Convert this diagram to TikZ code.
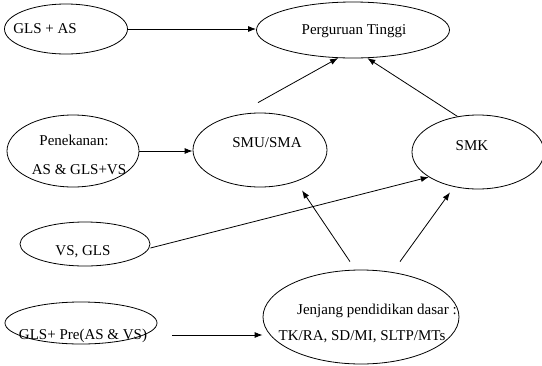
\documentclass[tikz,border=0pt]{standalone}
\usepackage{fontspec}
\setmainfont{Liberation Serif}
\usetikzlibrary{arrows.meta,positioning,shapes.geometric}

\begin{document}
\begin{tikzpicture}[
  x=1pt, y=-1pt,
  oval/.style={draw, ellipse, inner sep=0pt, line width=0.8pt},
  lbl/.style={inner sep=0pt, font=\fontsize{15}{18}\selectfont},
  arr/.style={-{Latex[length=8pt,width=6pt]}, line width=0.8pt}
]
  \useasboundingbox (0,0) rectangle (542,365);

  % ellipses
  \node[oval, minimum width=123pt, minimum height=50pt] (glsas) at (66,29) {};
  \node[oval, minimum width=193pt, minimum height=56pt] (pt) at (353,30) {};
  \node[oval, minimum width=132pt, minimum height=72pt] (pen) at (73,151) {};
  \node[oval, minimum width=134pt, minimum height=74pt] (smu) at (260,150) {};
  \node[oval, minimum width=132pt, minimum height=74pt] (smk) at (478,152) {};
  \node[oval, minimum width=130pt, minimum height=44pt] (vsgls) at (85,244) {};
  \node[oval, minimum width=196pt, minimum height=94pt] (jen) at (361,317) {};
  \node[oval, minimum width=152pt, minimum height=42pt] (pre) at (81,323) {};

  % texts
  \node[lbl] (glsasText) at (45,29) {GLS + AS};
  \node[lbl] (ptText) at (354,31) {Perguruan Tinggi};
  \node[lbl] (penTextA) at (74,140) {Penekanan:};
  \node[lbl] (penTextB) at (79,170) {AS \& GLS+VS};
  \node[lbl] (smuText) at (267,143) {SMU/SMA};
  \node[lbl] (smkText) at (472,146) {SMK};
  \node[lbl] (vsglsText) at (83,252) {VS, GLS};
  \node[lbl] (jenTextA) at (377,311) {Jenjang pendidikan dasar :};
  \node[lbl] (jenTextB) at (362,337) {TK/RA, SD/MI, SLTP/MTs};
  \node[lbl] (preText) at (83,336) {GLS+ Pre(AS \& VS)};

  % connectors
  \draw[arr] (glsas.east) -- (glsas.east -| pt.west);
  \draw[arr] (pen.east) -- (pen.east -| smu.west);
  \draw[arr] ([shift={(-2,-10)}]smu.north) -- (pt.242);
  \draw[arr] (smk.120) -- (pt.297);
  \draw[arr] ([shift={(0,4)}]vsgls.east) -- (smk.207);
  \draw[arr] ([shift={(-11,-8)}]jen.north) -- ([shift={(42,3)}]smu.south);
  \draw[arr] ([shift={(39,-8)}]jen.north) -- ([shift={(-28,3)}]smk.south);
  \draw[arr] ([shift={(15,12)}]pre.east) -- ([shift={(0,18)}]jen.west);
\end{tikzpicture}
\end{document}
